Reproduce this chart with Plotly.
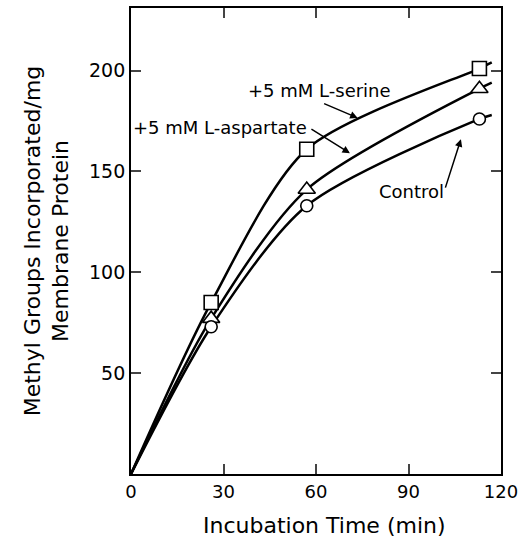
import plotly.graph_objects as go

time_min = [0, 26, 57, 113]
serine = [0, 85, 161, 201]
aspartate = [0, 77, 141, 191]
control = [0, 73, 133, 176]

tail_time = [113, 117]
serine_tail = [201, 204]
aspartate_tail = [191, 194]
control_tail = [176, 178]

x_ticks = [0, 30, 60, 90, 120]
y_ticks = [50, 100, 150, 200]

FONT = "DejaVu Sans"
fig = go.Figure()

series = [
    (serine, serine_tail, "square", 14),
    (aspartate, aspartate_tail, "triangle-up", 15),
    (control, control_tail, "circle", 12),
]
for vals, tail, sym, sz in series:
    fig.add_trace(go.Scatter(
        x=time_min + tail_time[1:], y=vals + tail[1:], mode="lines",
        line=dict(color="black", width=2.5, shape="spline", smoothing=0.8),
        showlegend=False, hoverinfo="skip"))
for vals, tail, sym, sz in series:
    fig.add_trace(go.Scatter(
        x=time_min[1:], y=vals[1:], mode="markers",
        marker=dict(symbol=sym, size=sz, color="white", line=dict(color="black", width=1.6)),
        showlegend=False))

ann_font = dict(family=FONT, size=18, color="black")
fig.add_annotation(x=61, y=190, xref="x", yref="y", text="+5 mM L-serine", showarrow=False,
                   font=ann_font)
fig.add_annotation(x=73.5, y=176.5, ax=-35, ay=-15, xref="x", yref="y", axref="pixel", ayref="pixel",
                   text="", showarrow=True, arrowhead=2, arrowsize=1, arrowwidth=1.5, arrowcolor="black")
fig.add_annotation(x=29, y=172, xref="x", yref="y", text="+5 mM L-aspartate", showarrow=False,
                   font=ann_font)
fig.add_annotation(x=71, y=159, ax=-40, ay=-25, xref="x", yref="y", axref="pixel", ayref="pixel",
                   text="", showarrow=True, arrowhead=2, arrowsize=1, arrowwidth=1.5, arrowcolor="black")
fig.add_annotation(x=91, y=140, xref="x", yref="y", text="Control", showarrow=False,
                   font=ann_font)
fig.add_annotation(x=107, y=166, ax=-16, ay=50, xref="x", yref="y", axref="pixel", ayref="pixel",
                   text="", showarrow=True, arrowhead=2, arrowsize=1, arrowwidth=1.5, arrowcolor="black")

# x-axis title (slightly right of centre, as in the original)
fig.add_annotation(x=0.522, y=0, xref="paper", yref="paper", yshift=-51, yanchor="middle",
                   text="Incubation Time (min)", showarrow=False,
                   font=dict(family=FONT, size=22, color="black"))

fig.update_layout(
    width=518, height=541,
    margin=dict(l=131, r=17, t=8, b=67),
    plot_bgcolor="white", paper_bgcolor="white",
    font=dict(family=FONT, size=19, color="black"),
    xaxis=dict(range=[0, 120], tickvals=x_ticks, ticks="inside", ticklen=10, tickwidth=1.5,
               showline=True, linecolor="black", linewidth=1.8, mirror="ticks", showgrid=False,
               zeroline=False, automargin=False, tickfont=dict(size=18),
               ticklabeloverflow="allow"),
    yaxis=dict(range=[0, 231], tickvals=y_ticks, ticks="inside", ticklen=10, tickwidth=1.5,
               showline=True, linecolor="black", linewidth=1.8, mirror="ticks", showgrid=False,
               zeroline=False, automargin=False,
               title=dict(text="Methyl Groups Incorporated/mg<br>Membrane Protein", font=dict(size=22), standoff=14)),
)

fig.write_html("out.html", config={"displayModeBar": False},
               post_script="document.body.style.margin='0';document.body.style.overflow='hidden';")
